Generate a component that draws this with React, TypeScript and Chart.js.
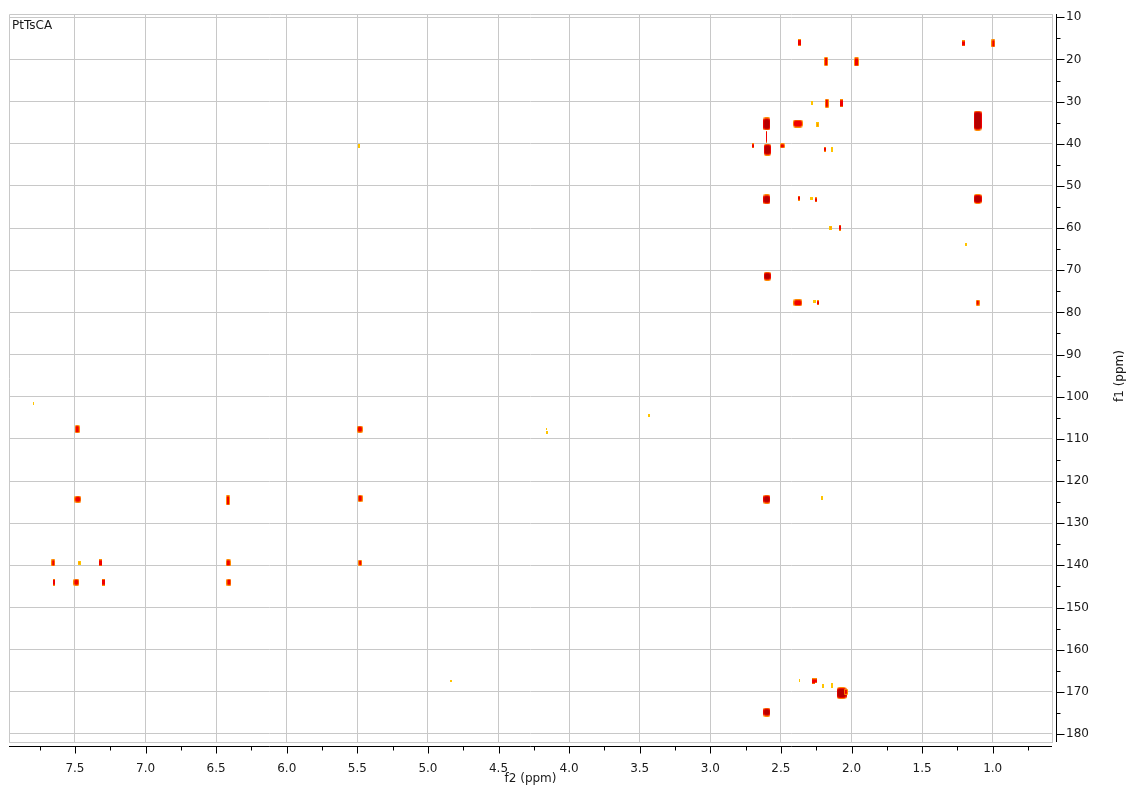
import React, { useEffect, useRef } from 'react';
import { Chart, registerables } from 'chart.js';

Chart.register(...registerables);

const spectrumLabel = 'PtTsCA';
const xTitle = 'f2 (ppm)';
const yTitle = 'f1 (ppm)';

const xTickValues = [7.5, 7.0, 6.5, 6.0, 5.5, 5.0, 4.5, 4.0, 3.5, 3.0, 2.5, 2.0, 1.5, 1.0];
const xMinorTickValues = [7.75, 7.25, 6.75, 6.25, 5.75, 5.25, 4.75, 4.25, 3.75, 3.25, 2.75, 2.25, 1.75, 1.25, 0.75];
const yTickValues = [10, 20, 30, 40, 50, 60, 70, 80, 90, 100, 110, 120, 130, 140, 150, 160, 170, 180];
const yMinorTickValues = [15, 25, 35, 45, 55, 65, 75, 85, 95, 105, 115, 125, 135, 145, 155, 165, 175];

// cross peaks: f2 (1H, ppm), f1 (13C, ppm), contour level (1..4), line widths in ppm
const peakF2 = [
  2.37, 2.18, 1.965, 2.28, 2.175, 2.07, 2.60, 2.38, 2.24, 2.60,
  2.595, 2.70, 2.49, 2.19, 2.14, 2.60, 2.37, 2.28, 2.25, 2.146,
  2.078, 2.596, 2.38, 2.26, 2.235, 1.208, 0.996, 1.106, 1.106, 1.19,
  1.106, 5.49, 7.795, 3.437, 4.157, 4.157, 7.484, 5.482, 7.48, 6.416,
  5.48, 2.60, 2.21, 7.654, 7.47, 7.316, 6.414, 5.48, 7.647, 7.49,
  7.30, 6.41, 4.837, 2.37, 2.27, 2.25, 2.20, 2.14, 2.07, 2.04,
  2.60,
];
const peakF1 = [
  16.0, 20.5, 20.6, 30.4, 30.4, 30.4, 35.3, 35.2, 35.5, 38.3,
  41.4, 40.5, 40.5, 41.3, 41.3, 53.2, 52.9, 52.9, 53.3, 59.9,
  59.9, 71.4, 77.7, 77.5, 77.7, 16.2, 16.2, 34.5, 53.1, 64.0,
  77.7, 40.5, 101.7, 104.4, 107.6, 108.5, 107.7, 107.7, 124.3, 124.6,
  124.1, 124.3, 124.0, 139.4, 139.4, 139.4, 139.4, 139.4, 144.0, 144.0,
  144.0, 144.0, 167.4, 167.2, 167.5, 167.4, 168.6, 168.6, 170.3, 170.0,
  174.8,
];
const peakLevel = [
  2, 3, 3, 1, 3, 3, 4, 3, 1, 2,
  4, 2, 2, 2, 1, 4, 2, 1, 2, 1,
  2, 4, 3, 1, 2, 2, 2, 4, 4, 1,
  2, 1, 1, 1, 1, 1, 3, 3, 3, 2,
  3, 4, 1, 3, 1, 3, 3, 3, 3, 3,
  2, 2, 1, 1, 2, 2, 1, 1, 4, 2,
  4,
];
const peakWidthF2 = [
  0.021, 0.028, 0.035, 0.014, 0.028, 0.021, 0.05, 0.071, 0.021, 0.007,
  0.05, 0.014, 0.035, 0.014, 0.014, 0.05, 0.014, 0.021, 0.014, 0.021,
  0.014, 0.05, 0.064, 0.021, 0.014, 0.021, 0.028, 0.057, 0.057, 0.014,
  0.028, 0.014, 0.007, 0.014, 0.007, 0.014, 0.035, 0.042, 0.05, 0.028,
  0.035, 0.05, 0.014, 0.028, 0.021, 0.021, 0.035, 0.028, 0.014, 0.042,
  0.021, 0.035, 0.014, 0.007, 0.021, 0.014, 0.014, 0.014, 0.071, 0.028,
  0.05,
];
const peakWidthF1 = [
  1.7, 2.1, 2.1, 0.95, 2.1, 1.9, 3.1, 1.9, 1.2, 2.8,
  2.8, 1.2, 1.2, 1.2, 1.2, 2.4, 1.2, 0.7, 1.2, 0.95,
  1.4, 2.1, 1.7, 0.7, 1.2, 1.4, 1.9, 4.7, 2.4, 0.7,
  1.4, 0.95, 0.7, 0.7, 0.5, 0.7, 1.9, 1.7, 1.7, 2.4,
  1.7, 2.1, 0.95, 1.7, 0.95, 1.7, 1.7, 1.4, 1.7, 1.7,
  1.7, 1.7, 0.5, 0.7, 1.4, 1.2, 0.95, 1.2, 2.8, 1.4,
  2.1,
];

const FONT = 'DejaVu Sans, Verdana, sans-serif';
const GRID = '#c8c8c8';
const YELLOW = '#ffc400';
const ORANGE = '#ff8a00';
const RED = '#f00000';
const DARK = '#b40000';

function fillBox(g: CanvasRenderingContext2D, x: number, y: number, w: number, h: number, color: string) {
  if (w <= 0 || h <= 0) return;
  g.fillStyle = color;
  const r = Math.min(w, h) >= 4 ? Math.min(w, h) * 0.3 : 0;
  g.beginPath();
  if (r > 0 && (g as any).roundRect) (g as any).roundRect(x, y, w, h, r);
  else g.rect(x, y, w, h);
  g.fill();
}

function makePeak(w: number, h: number, level: number) {
  const W = Math.max(1, Math.round(w));
  const H = Math.max(2, Math.round(h));
  const c = document.createElement('canvas');
  c.width = W;
  c.height = H;
  const g = c.getContext('2d')!;
  if (level === 1) {
    fillBox(g, 0, 0, W, H, YELLOW);
    if (W >= 3 && H >= 4) fillBox(g, 1, 1, W - 2, H - 2, ORANGE);
  } else if (level === 2) {
    fillBox(g, 0, 0, W, H, ORANGE);
    const dx = W >= 4 ? 1 : 0;
    fillBox(g, dx, 1, W - 2 * dx, H - 2, RED);
  } else if (level === 3) {
    fillBox(g, 0, 0, W, H, ORANGE);
    const dx = W >= 4 ? 1 : 0;
    fillBox(g, dx, 1, W - 2 * dx, H - 2, RED);
  } else {
    fillBox(g, 0, 0, W, H, ORANGE);
    fillBox(g, 0, 1, W, H - 2, RED);
    fillBox(g, 1, 2, W - 2, H - 4, DARK);
  }
  return c;
}

const axesPlugin = {
  id: 'nmrAxes',
  beforeDatasetsDraw(chart: any) {
    const { ctx, chartArea: a } = chart;
    ctx.save();
    ctx.strokeStyle = GRID;
    ctx.lineWidth = 1;
    ctx.beginPath();
    ctx.moveTo(a.left + 0.5, a.bottom);
    ctx.lineTo(a.left + 0.5, a.top + 0.5);
    ctx.lineTo(a.right, a.top + 0.5);
    ctx.stroke();
    ctx.restore();
  },
  afterDraw(chart: any) {
    const { ctx, chartArea: a } = chart;
    const xs = chart.scales.x;
    const ys = chart.scales.y;
    ctx.save();
    ctx.strokeStyle = '#000';
    ctx.lineWidth = 1;
    const axY = a.bottom + 4.5;
    const axX = a.right + 4.5;
    ctx.beginPath();
    ctx.moveTo(a.left, axY);
    ctx.lineTo(a.right, axY);
    ctx.moveTo(axX, a.top);
    ctx.lineTo(axX, a.bottom);
    xTickValues.forEach((v) => {
      const p = Math.round(xs.getPixelForValue(v)) + 0.5;
      ctx.moveTo(p, axY);
      ctx.lineTo(p, axY + 7);
    });
    xMinorTickValues.forEach((v) => {
      const p = Math.round(xs.getPixelForValue(v)) + 0.5;
      ctx.moveTo(p, axY);
      ctx.lineTo(p, axY + 4);
    });
    yTickValues.forEach((v) => {
      const p = Math.round(ys.getPixelForValue(v)) + 0.5;
      ctx.moveTo(axX, p);
      ctx.lineTo(axX + 8, p);
    });
    yMinorTickValues.forEach((v) => {
      const p = Math.round(ys.getPixelForValue(v)) + 0.5;
      ctx.moveTo(axX, p);
      ctx.lineTo(axX + 4, p);
    });
    ctx.stroke();

    ctx.fillStyle = '#1a1a1a';
    ctx.font = `12px ${FONT}`;
    ctx.textAlign = 'left';
    ctx.textBaseline = 'alphabetic';
    ctx.fillText(spectrumLabel, a.left + 3, a.top + 15);

    ctx.textAlign = 'center';
    ctx.textBaseline = 'middle';
    ctx.fillText(xTitle, (a.left + a.right) / 2, 779);
    ctx.translate(1120, (a.top + a.bottom) / 2 - 2);
    ctx.rotate(-Math.PI / 2);
    ctx.fillText(yTitle, 0, 0);
    ctx.restore();
  },
};

export default function App() {
  const ref = useRef<HTMLCanvasElement | null>(null);

  useEffect(() => {
    const prevMargin = document.body.style.margin;
    document.body.style.margin = '0';
    const cache = new Map<number, HTMLCanvasElement>();
    const chart = new Chart(ref.current!, {
      type: 'scatter',
      data: {
        datasets: [
          {
            label: 'HMBC',
            data: peakF2.map((x, i) => ({ x, y: peakF1[i] })),
            pointRadius: 3,
            pointStyle: (c: any) => {
              const i = c.dataIndex;
              if (typeof i !== 'number') return 'rect';
              if (cache.has(i)) return cache.get(i);
              const xs = c.chart.scales.x;
              const ys = c.chart.scales.y;
              if (!xs || !ys) return 'rect';
              const w = Math.abs(xs.getPixelForValue(peakF2[i] + peakWidthF2[i] / 2) - xs.getPixelForValue(peakF2[i] - peakWidthF2[i] / 2));
              const h = Math.abs(ys.getPixelForValue(peakF1[i] + peakWidthF1[i] / 2) - ys.getPixelForValue(peakF1[i] - peakWidthF1[i] / 2));
              if (!Number.isFinite(w) || !Number.isFinite(h) || w <= 0 || h <= 0 || w > 200 || h > 200) return 'rect';
              const img = makePeak(w, h, peakLevel[i]);
              cache.set(i, img);
              return img;
            },
          } as any,
        ],
      },
      options: {
        responsive: false,
        animation: false,
        events: [],
        layout: { padding: { left: 9, top: 14, right: 0, bottom: 0 } },
        plugins: { legend: { display: false }, tooltip: { enabled: false } },
        scales: {
          x: {
            type: 'linear',
            reverse: true,
            min: 0.58,
            max: 7.967,
            afterBuildTicks: (s: any) => {
              s.ticks = xTickValues.map((value) => ({ value }));
            },
            afterFit: (s: any) => {
              s.height = 47;
              s.paddingLeft = 0;
              s.paddingRight = 0;
            },
            grid: { color: GRID, lineWidth: 1, drawTicks: false },
            border: { display: true, color: GRID },
            ticks: {
              padding: 20,
              color: '#1a1a1a',
              font: { family: FONT, size: 12 },
              callback: (v: any) => Number(v).toFixed(1),
              maxRotation: 0,
              autoSkip: false,
            },
          },
          y: {
            type: 'linear',
            position: 'right',
            reverse: true,
            min: 9.22,
            max: 181.9,
            afterBuildTicks: (s: any) => {
              s.ticks = yTickValues.map((value) => ({ value }));
            },
            afterFit: (s: any) => {
              s.width = 78;
              s.paddingTop = 0;
              s.paddingBottom = 0;
            },
            grid: { color: GRID, lineWidth: 1, drawTicks: false },
            border: { display: true, color: GRID },
            ticks: {
              padding: 14,
              color: '#1a1a1a',
              font: { family: FONT, size: 12 },
              callback: (v: any) => String(v),
              autoSkip: false,
            },
          },
        },
      },
      plugins: [axesPlugin],
    });
    return () => {
      chart.destroy();
      document.body.style.margin = prevMargin;
    };
  }, []);

  return (
    <div style={{ position: 'absolute', left: 0, top: 0, width: 1130, height: 789, background: '#fff' }}>
      <canvas ref={ref} width={1130} height={789} style={{ display: 'block', width: 1130, height: 789 }} />
    </div>
  );
}
